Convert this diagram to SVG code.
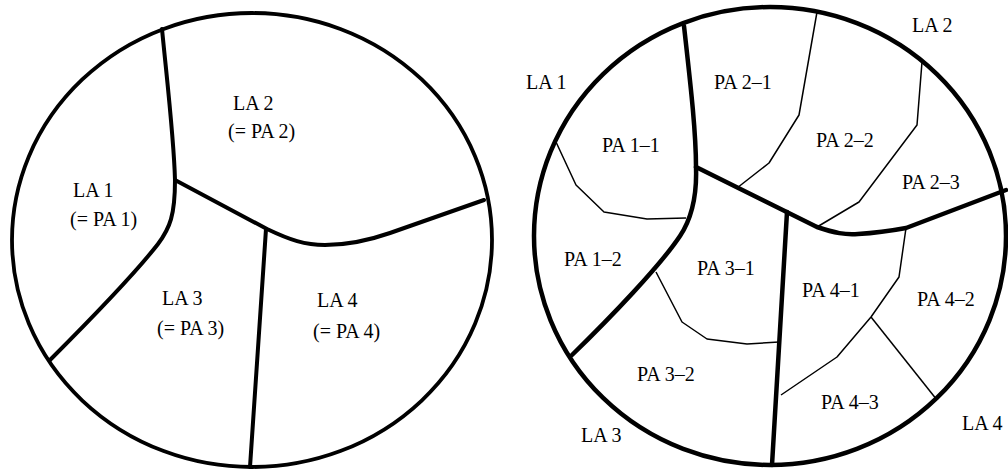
<svg xmlns="http://www.w3.org/2000/svg" width="1008" height="470" viewBox="0 0 1008 470">
<style>
.outline{fill:none;stroke:#000;stroke-width:3.8}
.thick{fill:none;stroke:#000;stroke-width:4;stroke-linejoin:round;stroke-linecap:round}
.thin{fill:none;stroke:#000;stroke-width:1.5;stroke-linejoin:round}
text{font-family:"Liberation Serif","DejaVu Serif",serif;font-size:20px;fill:#000}
</style>
<rect width="1008" height="470" fill="#fff"/>
<g id="left-diagram">
  <ellipse class="outline" cx="252" cy="240" rx="240" ry="227"/>
  <g id="left-connectors">
    <path class="thick" d="M162,29 C168,90 174,140 175,180 C175,215 170,228 158,244 C130,280 80,330 50,360"/>
    <path class="thick" d="M175,180 L267,229 C290,240 305,245 325,245 C350,245 370,240 390,233 L484,200"/>
    <path class="thick" d="M266,229 L250,467"/>
  </g>
  <g id="left-LA1"><text x="73" y="197">LA 1</text><text x="70" y="226">(= PA 1)</text></g>
  <g id="left-LA2"><text x="233" y="110">LA 2</text><text x="228" y="138">(= PA 2)</text></g>
  <g id="left-LA3"><text x="162" y="305">LA 3</text><text x="157" y="335">(= PA 3)</text></g>
  <g id="left-LA4"><text x="317" y="307">LA 4</text><text x="313" y="338">(= PA 4)</text></g>
</g>
<g id="right-diagram">
  <ellipse class="outline" cx="770" cy="236" rx="236" ry="229" style="stroke-width:4.5"/>
  <g id="right-connectors">
    <path class="thick" d="M684,26 C690,80 696,130 696,167 C697,195 692,218 680,236 C660,266 610,318 572,355" style="stroke-width:4.5"/>
    <path class="thick" d="M696,167 L817,227 C835,233 845,235 858,234 C875,233 890,231 906,228 L1006,190" style="stroke-width:4.5"/>
    <path class="thick" d="M787,212 L772,465" style="stroke-width:4.5"/>
    <polyline class="thin" points="556,142 576,185 604,212 647,219 686,218"/>
    <polyline class="thin" points="817,12 799,115 769,163 737,188"/>
    <polyline class="thin" points="922,62 917,125 859,202 817,227"/>
    <polyline class="thin" points="906,228 899,277 871,317 837,357 781,395"/>
    <polyline class="thin" points="871,317 937,400"/>
    <polyline class="thin" points="656,272 682,322 707,339 747,344 779,342"/>
  </g>
  <g id="right-LA1"><text x="526" y="89">LA 1</text></g>
  <g id="right-LA2"><text x="912" y="32">LA 2</text></g>
  <g id="right-LA3"><text x="581" y="442">LA 3</text></g>
  <g id="right-LA4"><text x="962" y="430">LA 4</text></g>
  <g id="PA1-1"><text x="602" y="152">PA 1–1</text></g>
  <g id="PA1-2"><text x="564" y="266">PA 1–2</text></g>
  <g id="PA2-1"><text x="714" y="89">PA 2–1</text></g>
  <g id="PA2-2"><text x="816" y="147">PA 2–2</text></g>
  <g id="PA2-3"><text x="902" y="189">PA 2–3</text></g>
  <g id="PA3-1"><text x="697" y="275">PA 3–1</text></g>
  <g id="PA3-2"><text x="637" y="381">PA 3–2</text></g>
  <g id="PA4-1"><text x="802" y="297">PA 4–1</text></g>
  <g id="PA4-2"><text x="917" y="306">PA 4–2</text></g>
  <g id="PA4-3"><text x="821" y="409">PA 4–3</text></g>
</g>
</svg>
